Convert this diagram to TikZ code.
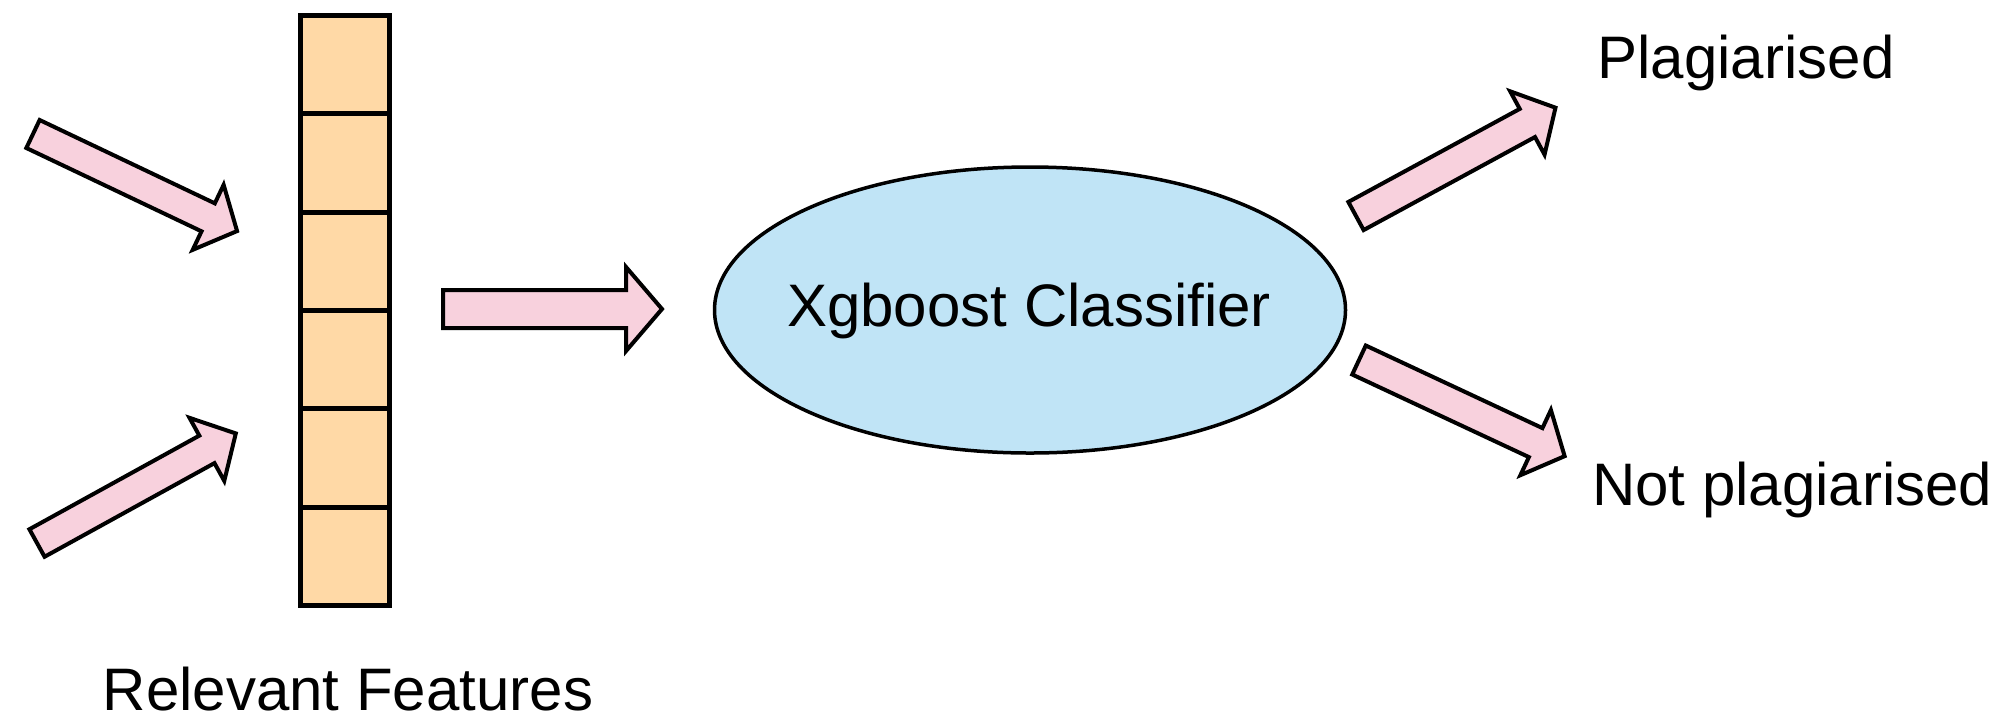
\documentclass[tikz,border=0pt]{standalone}
\usepackage{fontspec}
\setmainfont{Liberation Sans}
\usetikzlibrary{shapes.geometric}
\definecolor{arrpink}{HTML}{F8D1DD}
\definecolor{cellorange}{HTML}{FFD9A6}
\definecolor{clfblue}{HTML}{C0E4F6}
\newcommand\blockarr[7]{%
  \draw[barrow, shift={(#1,#2)}, rotate=#3]
    (0,-#5) -- ({#4-#7},-#5) -- ({#4-#7},-#6) -- (#4,0) -- ({#4-#7},#6) -- ({#4-#7},#5) -- (0,#5) -- cycle;}
\begin{document}
\begin{tikzpicture}[x=1pt,y=-1pt,
  barrow/.style={draw=black, fill=arrpink, line width=4pt, line join=miter},
  cell/.style={draw=black, fill=cellorange, line width=5pt, rectangle, minimum width=89pt, minimum height=98.3pt, inner sep=0pt},
  clf/.style={draw=black, fill=clfblue, line width=3.5pt, ellipse, minimum width=631pt, minimum height=286pt, inner sep=0pt},
  lbl/.style={inner sep=0pt, font=\fontsize{60}{72}\selectfont}]
\useasboundingbox (0,0) rectangle (2009,716);
% feature column
\foreach \i in {1,...,6} {
  \node[cell] (c\i) at (345, {15.5 + 98.33*(\i-0.5)}) {};
}
% input arrows
\blockarr{33}{134}{-25.44}{226}{15.5}{36}{32}
\blockarr{37}{543}{28.86}{227}{15.7}{36}{33}
% arrow to classifier
\blockarr{443}{309}{0}{219}{19}{42}{36}
% classifier
\node[clf] (xgb) at (1030,310) {};
\node[lbl, anchor=base] (xgbtext) at (1029,326) {Xgboost Classifier};
% output arrows
\blockarr{1356}{216}{28.5}{227}{16}{36}{32}
\blockarr{1359}{360}{-25.06}{227}{16}{36}{32}
% labels
\node[lbl, anchor=base] (plag) at (1746,78) {Plagiarised};
\node[lbl, anchor=base west] (notplag) at (1592,505) {Not plagiarised};
\node[lbl, anchor=base] (relfeat) at (348,710) {Relevant Features};
\end{tikzpicture}
\end{document}
